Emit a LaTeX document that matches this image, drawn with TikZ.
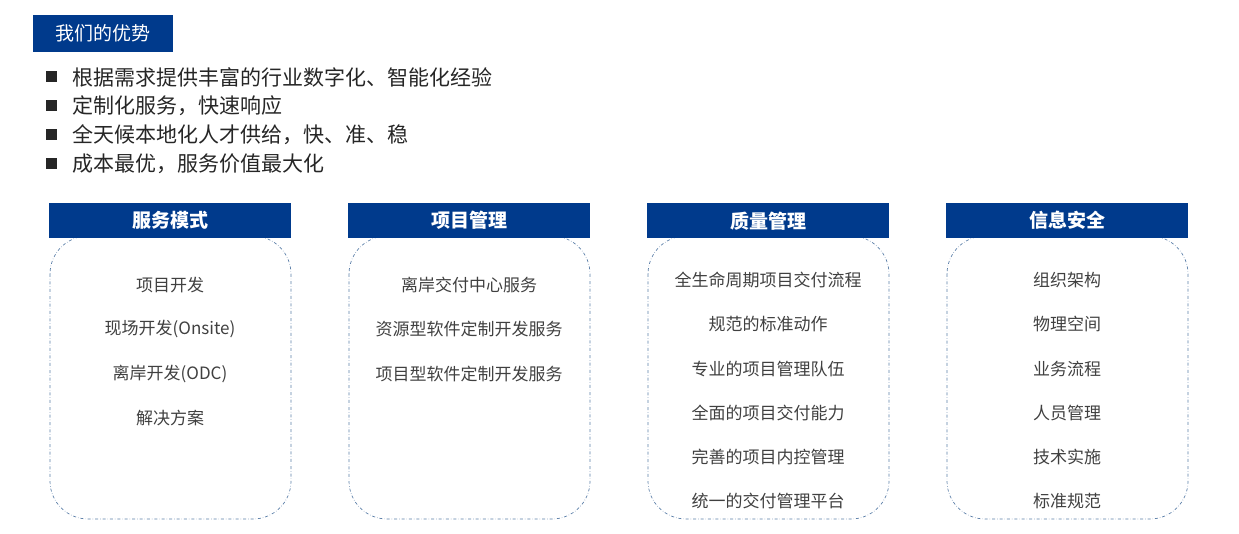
\documentclass[tikz,border=0pt]{standalone}
\usepackage{fontspec}
\setmainfont{Noto Sans CJK SC}
\definecolor{hdr}{HTML}{003A8C}
\definecolor{txt}{HTML}{404040}
\definecolor{brd}{HTML}{5C7FA8}
\begin{document}
\begin{tikzpicture}[x=1pt,y=-1pt,
  hbox/.style={fill=hdr,text=white,font=\fontsize{19}{22}\selectfont\bfseries,minimum width=242pt,minimum height=35pt,inner sep=0pt,anchor=north west},
  panel/.style={draw=brd,dash dot,line width=0.7pt,rounded corners=38pt},
  item/.style={text=txt,font=\fontsize{17}{20}\selectfont},
  bul/.style={text=black!85,font=\fontsize{21}{24}\selectfont,anchor=west,inner sep=0pt},
  sq/.style={fill=black!85,minimum size=11pt,inner sep=0pt}]
\useasboundingbox (0,0) rectangle (1239,534);
\node[fill=hdr,text=white,font=\fontsize{19}{22}\selectfont,minimum width=140pt,minimum height=37pt,inner sep=0pt,anchor=north west] (t) at (33,15) {我们的优势};
\foreach \y/\s [count=\i] in {77/根据需求提供丰富的行业数字化、智能化经验,106/定制化服务，快速响应,135/全天候本地化人才供给，快、准、稳,164/成本最优，服务价值最大化}{
  \node[sq] (s\i) at (51,\y) {};
  \node[bul] (b\i) at (72,\y) {\s};
}
\foreach \x/\h [count=\i] in {49/服务模式,348/项目管理,647/质量管理,946/信息安全}{
  \draw[panel] (\x+1,236) rectangle (\x+242,519);
  \node[hbox] (h\i) at (\x,203) {\h};
}
\foreach \y/\s [count=\j] in {285/项目开发,329/现场开发(Onsite),374/离岸开发(ODC),418/解决方案}
  \node[item] (a\j) at (170,\y) {\s};
\foreach \y/\s [count=\j] in {285/离岸交付中心服务,329/资源型软件定制开发服务,374/项目型软件定制开发服务}
  \node[item] (p\j) at (469,\y) {\s};
\foreach \y/\s [count=\j] in {280/全生命周期项目交付流程,324/规范的标准动作,369/专业的项目管理队伍,413/全面的项目交付能力,457/完善的项目内控管理,501/统一的交付管理平台}
  \node[item] (q\j) at (768,\y) {\s};
\foreach \y/\s [count=\j] in {280/组织架构,324/物理空间,369/业务流程,413/人员管理,457/技术实施,501/标准规范}
  \node[item] (r\j) at (1067,\y) {\s};
\end{tikzpicture}
\end{document}
